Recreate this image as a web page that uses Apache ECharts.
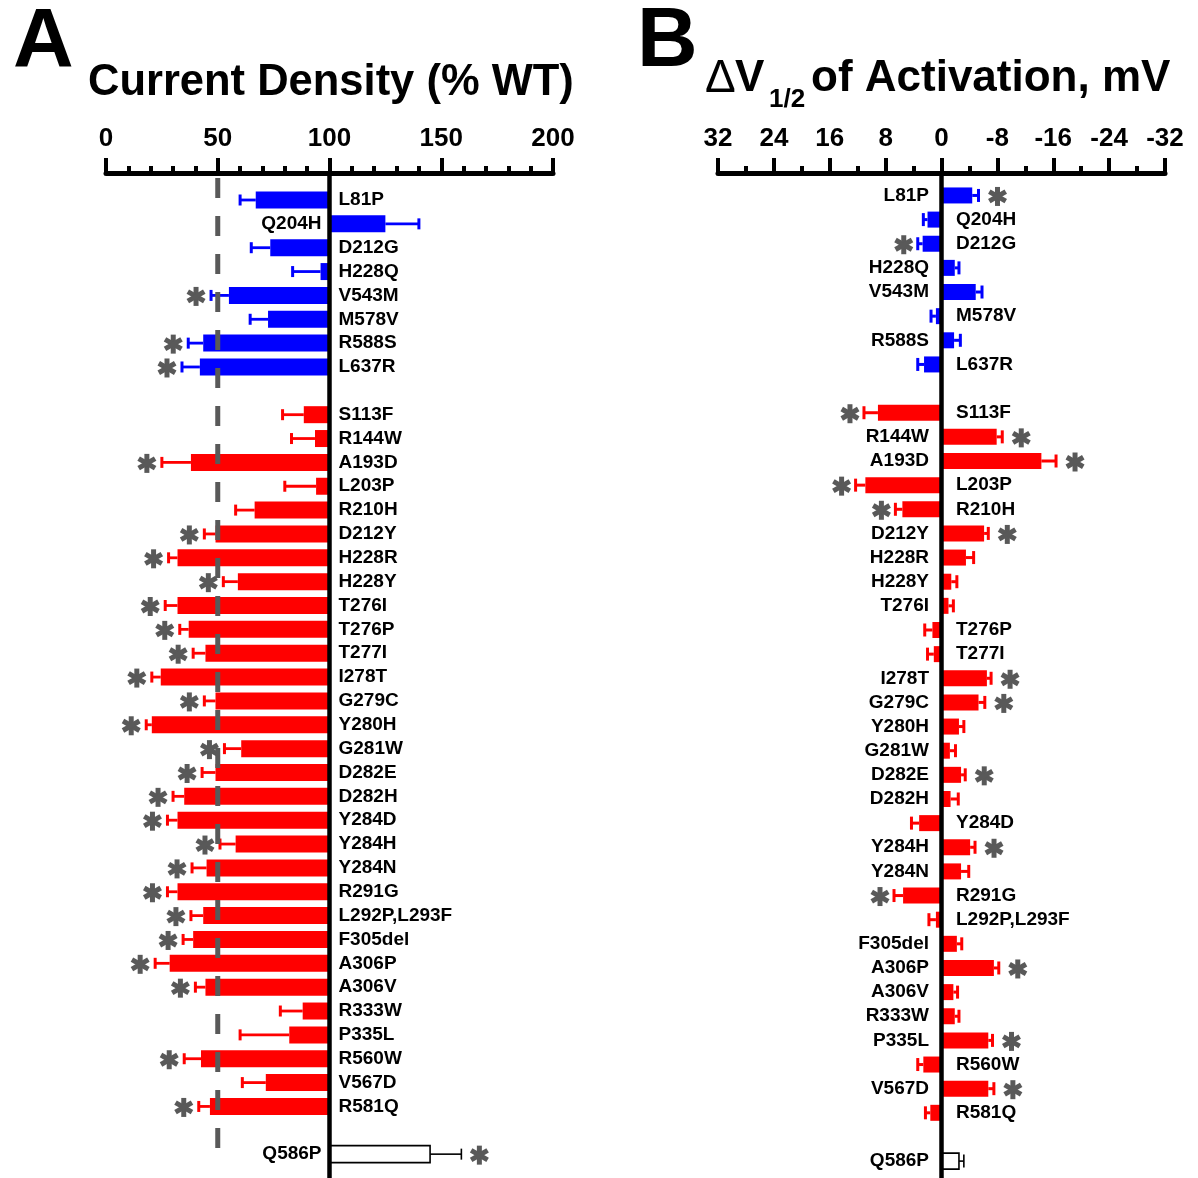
<!DOCTYPE html>
<html>
<head>
<meta charset="utf-8">
<script src="https://cdn.jsdelivr.net/npm/echarts@6.0.0/dist/echarts.min.js"></script>
<style>
html,body{margin:0;padding:0;background:#fff;}
#c{width:1198px;height:1178px;}
</style>
</head>
<body>
<div id="c"></div>
<script>
// ---------------- DATA ----------------
// Empty strings are spacer rows between groups
const categories = [
  'L81P','Q204H','D212G','H228Q','V543M','M578V','R588S','L637R',
  '',
  'S113F','R144W','A193D','L203P','R210H','D212Y','H228R','H228Y','T276I','T276P',
  'T277I','I278T','G279C','Y280H','G281W','D282E','D282H','Y284D','Y284H','Y284N',
  'R291G','L292P,L293F','F305del','A306P','A306V','R333W','P335L','R560W','V567D','R581Q',
  '',
  'Q586P'
];
const groups = [
  'blue','blue','blue','blue','blue','blue','blue','blue',
  null,
  'red','red','red','red','red','red','red','red','red','red',
  'red','red','red','red','red','red','red','red','red','red',
  'red','red','red','red','red','red','red','red','red','red',
  null,
  'open'
];
// Panel A: current density (% WT)
const currentDensity = [
  67, 125, 73.5, 96, 55, 72.5, 43.5, 42,
  null,
  88.5, 93.5, 38, 94, 66.5, 49, 32, 59, 32, 37,
  44.5, 24.5, 49, 20.5, 60.5, 49, 35, 32, 58, 45,
  32, 43.5, 39, 28.5, 44.5, 88, 82, 42.5, 71.5, 46.5,
  null,
  145
];
const currentDensityErr = [
  7, 15, 8.5, 12.5, 8, 8, 6.7, 8,
  null,
  9.5, 10.5, 13, 14, 8.5, 5, 4, 6.5, 5.5, 4,
  5.5, 4, 5, 2.5, 7.5, 6, 5, 4.5, 7, 6.5,
  4.5, 5.5, 4.5, 6.5, 4.5, 10, 22, 7.5, 10.5, 5,
  null,
  14
];
const currentDensitySig = [
  0, 0, 0, 0, 1, 0, 1, 1,
  0,
  0, 0, 1, 0, 0, 1, 1, 1, 1, 1,
  1, 1, 1, 1, 1, 1, 1, 1, 1, 1,
  1, 1, 1, 1, 1, 0, 0, 1, 0, 1,
  0,
  1
];
// Panel B: delta V1/2 of activation (mV)
const deltaV = [
  -4.4, 2.0, 2.7, -1.9, -4.9, 0.8, -1.8, 2.5,
  null,
  9.1, -7.9, -14.3, 10.9, 5.6, -6.1, -3.5, -1.4, -1.0, 1.3,
  1.1, -6.5, -5.3, -2.5, -1.2, -2.8, -1.3, 3.2, -4.1, -2.8,
  5.5, 0.8, -2.2, -7.5, -1.7, -1.9, -6.7, 2.6, -6.7, 1.6,
  null,
  -2.5
];
const deltaVErr = [
  0.9, 0.6, 0.7, 0.6, 0.9, 0.7, 0.9, 0.9,
  null,
  2.0, 0.8, 2.1, 1.4, 1.0, 0.6, 1.1, 0.8, 0.7, 1.1,
  0.9, 0.6, 0.9, 0.7, 0.8, 0.6, 1.1, 1.1, 0.7, 1.1,
  1.3, 1.0, 0.7, 0.7, 0.6, 0.6, 0.6, 0.8, 0.8, 0.7,
  null,
  0.7
];
const deltaVSig = [
  1, 0, 1, 0, 0, 0, 0, 0,
  0,
  1, 1, 1, 1, 1, 1, 0, 0, 0, 0,
  0, 1, 1, 0, 0, 1, 0, 0, 1, 0,
  1, 0, 0, 1, 0, 0, 1, 0, 1, 0,
  0,
  0
];
const baselineA = 100;   // WT level
const thresholdA = 50;   // dashed 50% line
const baselineB = 0;

// ---------------- CHART ----------------
const FONT = '"Liberation Sans", Arial, Helvetica, sans-serif';
const COLORS = { blue: '#0000FF', red: '#FF0000', open: '#000000' };
const Y_A = { min: -1.132, max: 41.0 };
const Y_B = { min: -0.93, max: 40.7 };

function barRenderer(vals, errs, sigs, base, o) {
  return function (params, api) {
    const i = params.dataIndex;
    const v = vals[i];
    if (v === null || v === undefined) return null;
    const g = groups[i];
    const open = g === 'open';
    const color = COLORS[g];
    const p0 = api.coord([base, i]);
    const p1 = api.coord([v, i]);
    const dir = v >= base ? 1 : -1;
    const pe = api.coord([v + dir * errs[i], i]);
    const y = p0[1];
    const sdir = p1[0] >= p0[0] ? 1 : -1;
    const children = [];
    const errW = open ? 1.6 : o.errW;
    children.push({ type: 'line', shape: { x1: p1[0], y1: y, x2: pe[0], y2: y },
      style: { stroke: color, lineWidth: errW } });
    children.push({ type: 'line', shape: { x1: pe[0], y1: y - o.capH / 2, x2: pe[0], y2: y + o.capH / 2 },
      style: { stroke: color, lineWidth: open ? 1.6 : o.capW } });
    const xl = Math.min(p0[0], p1[0]);
    const w = Math.abs(p1[0] - p0[0]);
    children.push({ type: 'rect', shape: { x: xl, y: y - o.barH / 2, width: w, height: o.barH },
      style: open ? { fill: '#fff', stroke: '#000', lineWidth: 1.6 } : { fill: color } });
    if (sigs[i]) {
      const cx = pe[0] + (sdir > 0 ? o.astR : -o.astL);
      const cy = y + 1;
      const L = o.astSize / 2;
      [90, 30, 150].forEach(function (a) {
        const r = a * Math.PI / 180;
        children.push({ type: 'line',
          shape: { x1: cx - L * Math.cos(r), y1: cy - L * Math.sin(r), x2: cx + L * Math.cos(r), y2: cy + L * Math.sin(r) },
          style: { stroke: '#595959', lineWidth: 5 } });
      });
    }
    children.push({ type: 'text',
      style: { text: categories[i], x: sdir < 0 ? p0[0] + o.labR : p0[0] - o.labL, y: y,
        align: sdir < 0 ? 'left' : 'right', verticalAlign: 'middle',
        font: 'bold 19px ' + FONT, fill: '#000' } });
    return { type: 'group', children: children };
  };
}

function vline(xVal, yFrom, yTo, style) {
  return function (params, api) {
    const a = api.coord([xVal, yFrom]);
    const b = api.coord([xVal, yTo]);
    return { type: 'line', shape: { x1: a[0], y1: a[1], x2: b[0], y2: b[1] }, style: style };
  };
}

function xAxisCommon(extra) {
  return Object.assign({
    type: 'value',
    position: 'top',
    axisLine: { show: true, onZero: false, lineStyle: { color: '#000', width: 5 } },
    axisTick: { show: true, length: 15, lineStyle: { color: '#000', width: 4 } },
    splitLine: { show: false },
    minorSplitLine: { show: false },
    axisLabel: { show: true, color: '#000', fontSize: 26, fontWeight: 'bold', fontFamily: FONT,
      margin: 21, showMinLabel: true, showMaxLabel: true, hideOverlap: false }
  }, extra);
}

const chart = echarts.init(document.getElementById('c'), null, { renderer: 'canvas' });
const rowIdx = categories.map(function (c, i) { return i; });

chart.setOption({
  animation: false,
  backgroundColor: '#fff',
  grid: [
    { left: 106, top: 173, width: 447, height: 1005, containLabel: false, outerBoundsMode: 'none' },
    { left: 718, top: 173, width: 447, height: 1005, containLabel: false, outerBoundsMode: 'none' }
  ],
  xAxis: [
    xAxisCommon({ gridIndex: 0, min: 0, max: 200, interval: 50,
      minorTick: { show: true, splitNumber: 5, length: 7, lineStyle: { color: '#000', width: 4 } } }),
    xAxisCommon({ gridIndex: 1, min: -32, max: 32, interval: 8, inverse: true,
      minorTick: { show: true, splitNumber: 2, length: 7, lineStyle: { color: '#000', width: 4 } } })
  ],
  yAxis: [
    { gridIndex: 0, type: 'value', inverse: true, min: Y_A.min, max: Y_A.max, show: false },
    { gridIndex: 1, type: 'value', inverse: true, min: Y_B.min, max: Y_B.max, show: false }
  ],
  series: [
    { type: 'custom', name: 'Current density', xAxisIndex: 0, yAxisIndex: 0, z: 2,
      data: rowIdx.map(function (i) { return [currentDensity[i] == null ? baselineA : currentDensity[i], i]; }),
      encode: { x: 0, y: 1 },
      renderItem: barRenderer(currentDensity, currentDensityErr, currentDensitySig, baselineA,
        { barH: 17, errW: 2.8, capW: 3, capH: 11, astL: 15, astR: 18, astSize: 19, labR: 9, labL: 8 }) },
    { type: 'custom', name: 'threshold', xAxisIndex: 0, yAxisIndex: 0, z: 4, silent: true,
      data: [[thresholdA, 0]], encode: { x: 0, y: 1 },
      renderItem: vline(thresholdA, -0.92, 39.9, { stroke: '#595959', lineWidth: 5, lineDash: [20, 18] }) },
    { type: 'custom', name: 'WT line', xAxisIndex: 0, yAxisIndex: 0, z: 5, silent: true,
      data: [[baselineA, 0]], encode: { x: 0, y: 1 },
      renderItem: vline(baselineA, Y_A.min, Y_A.max, { stroke: '#000', lineWidth: 4.5 }) },

    { type: 'custom', name: 'dV1/2', xAxisIndex: 1, yAxisIndex: 1, z: 2,
      data: rowIdx.map(function (i) { return [deltaV[i] == null ? baselineB : deltaV[i], i]; }),
      encode: { x: 0, y: 1 },
      renderItem: barRenderer(deltaV, deltaVErr, deltaVSig, baselineB,
        { barH: 16, errW: 3, capW: 3, capH: 13, astL: 14, astR: 19, astSize: 19, labR: 14.5, labL: 12.5 }) },
    { type: 'custom', name: 'zero line', xAxisIndex: 1, yAxisIndex: 1, z: 5, silent: true,
      data: [[baselineB, 0]], encode: { x: 0, y: 1 },
      renderItem: vline(baselineB, Y_B.min, Y_B.max, { stroke: '#000', lineWidth: 4.5 }) }
  ],
  graphic: [
    { type: 'text', x: 13, y: 44, style: { text: 'A', font: 'bold 84px ' + FONT, fill: '#000', verticalAlign: 'middle' } },
    { type: 'text', x: 88, y: 83, style: { text: 'Current Density (% WT)', font: 'bold 43.5px ' + FONT, fill: '#000', verticalAlign: 'middle' } },
    { type: 'text', x: 637, y: 43, style: { text: 'B', font: 'bold 84px ' + FONT, fill: '#000', verticalAlign: 'middle' } },
    { type: 'text', x: 705, y: 79, style: { text: '\u0394', font: '46px ' + FONT, fill: '#000', verticalAlign: 'middle' } },
    { type: 'text', x: 735, y: 79, style: { text: 'V', font: 'bold 44px ' + FONT, fill: '#000', verticalAlign: 'middle' } },
    { type: 'text', x: 769, y: 100, style: { text: '1/2', font: 'bold 26px ' + FONT, fill: '#000', verticalAlign: 'middle' } },
    { type: 'text', x: 811, y: 79, style: { text: 'of Activation, mV', font: 'bold 44px ' + FONT, fill: '#000', verticalAlign: 'middle' } }
  ]
});
</script>
</body>
</html>
